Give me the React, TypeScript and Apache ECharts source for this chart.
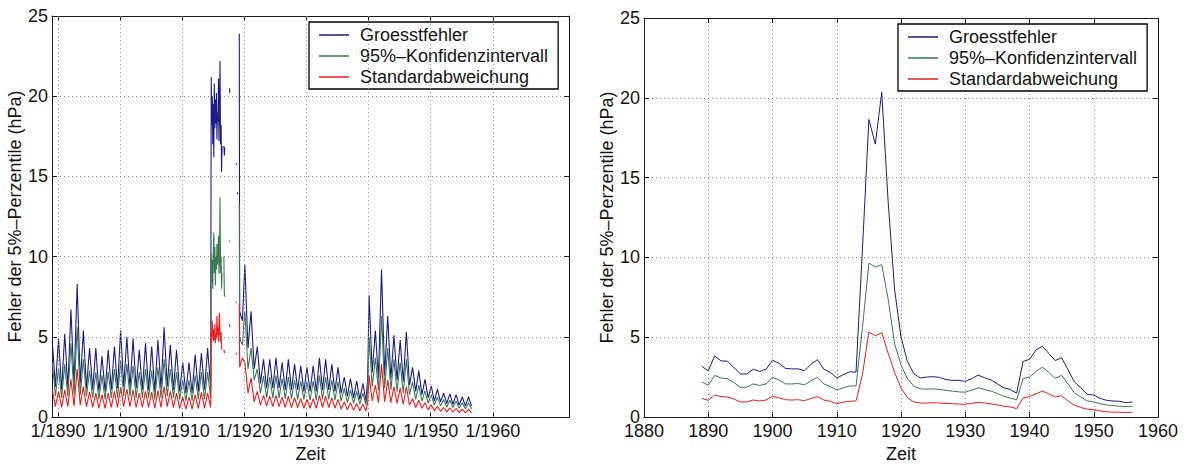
import React, { useEffect, useRef } from 'react';
import * as echarts from 'echarts';

// ---------- names / ticks ----------
const NAMES = ['Groesstfehler', '95%–Konfidenzintervall', 'Standardabweichung'];
const COLORS = ['#1c1c8a', '#3b7a52', '#ee1c1c'];
const Y_TICKS_MAX = 25;
const LEFT_DECADES = [1890, 1900, 1910, 1920, 1930, 1940, 1950, 1960];
const LEFT_MIN = 1889.03;
const LEFT_MAX = 1972.26;

// ---------- left panel: monthly-resolution data, read as winter peak / summer trough per year ----------
const YEARS = Array.from({ length: 68 }, (_, i) => 1889 + i); // 1889..1956

const BLUE_WINTER = [
  4.7,
  4.9, 5.2, 6.7, 8.3, 5.4, 4.3, 4.3, 3.8, 4.2, 4.4,
  5.4, 5.0, 4.9, 4.2, 4.6, 4.4, 4.8, 5.6, 4.5, 4.2,
  3.4, 3.4, 3.9, 4.0, 4.3, null, null, null, null, null,
  9.5, 6.6, 4.4, 3.6, 3.6, 3.7, 3.4, 3.6, 3.3, 3.2,
  3.1, 3.2, 3.7, 3.6, 3.3, 3.1, 2.5, 2.4, 2.25, 2.1,
  7.6, 5.4, 9.2, 6.3, 5.1, 4.8, 5.3, 3.1, 2.9, 2.35,
  1.95, 1.75, 1.5, 1.45, 1.4, 1.25, 1.25,
];
const BLUE_SUMMER = [
  1.9,
  1.7, 1.8, 2.0, 2.1, 1.8, 1.7, 1.6, 1.6, 1.7, 1.8,
  1.9, 1.8, 1.8, 1.7, 1.7, 1.6, 1.8, 1.9, 1.7, 1.6,
  1.5, 1.5, 1.6, 1.7, 1.8, null, null, null, null, null,
  4.3, 3.0, 2.1, 1.8, 1.8, 1.8, 1.7, 1.7, 1.7, 1.6,
  1.6, 1.6, 1.7, 1.7, 1.6, 1.5, 1.3, 1.2, 1.1, 1.0,
  2.8, 2.4, 2.6, 2.4, 2.3, 2.2, 2.0, 1.6, 1.4, 1.2,
  1.0, 0.95, 0.85, 0.8, 0.75, 0.7, 0.7,
];
const GREEN_WINTER = [
  3.4,
  3.0, 3.3, 4.6, 5.6, 3.6, 2.9, 2.8, 2.6, 2.8, 3.0,
  3.5, 3.3, 3.2, 2.8, 3.0, 2.9, 3.1, 3.6, 3.0, 2.8,
  2.3, 2.3, 2.6, 2.8, 2.8, null, null, null, null, null,
  6.6, 4.3, 3.0, 2.55, 2.5, 2.6, 2.4, 2.5, 2.3, 2.25,
  2.2, 2.25, 2.6, 2.5, 2.3, 2.2, 1.8, 1.7, 1.6, 1.5,
  5.0, 3.7, 6.3, 4.3, 3.6, 3.4, 3.6, 2.2, 2.0, 1.65,
  1.4, 1.25, 1.1, 1.05, 1.0, 0.9, 0.9,
];
const GREEN_SUMMER = [
  1.3,
  1.2, 1.3, 1.4, 1.4, 1.3, 1.2, 1.1, 1.1, 1.2, 1.2,
  1.3, 1.3, 1.2, 1.2, 1.2, 1.1, 1.2, 1.3, 1.2, 1.1,
  1.0, 1.0, 1.1, 1.1, 1.2, null, null, null, null, null,
  3.0, 2.3, 1.5, 1.2, 1.2, 1.2, 1.15, 1.15, 1.1, 1.1,
  1.05, 1.05, 1.1, 1.1, 1.05, 1.0, 0.9, 0.85, 0.8, 0.75,
  1.9, 1.7, 1.8, 1.7, 1.6, 1.5, 1.4, 1.1, 1.0, 0.85,
  0.75, 0.7, 0.62, 0.6, 0.55, 0.52, 0.5,
];
const RED_WINTER = [
  1.7,
  1.6, 1.7, 2.35, 3.0, 1.9, 1.55, 1.5, 1.4, 1.5, 1.6,
  1.85, 1.75, 1.7, 1.5, 1.6, 1.55, 1.65, 1.9, 1.6, 1.5,
  1.25, 1.25, 1.4, 1.55, 1.5, null, null, null, null, null,
  3.4, 2.45, 1.6, 1.35, 1.3, 1.35, 1.25, 1.3, 1.2, 1.15,
  1.1, 1.15, 1.35, 1.3, 1.2, 1.1, 0.95, 0.9, 0.85, 0.8,
  2.6, 2.0, 3.3, 2.3, 1.9, 1.8, 1.9, 1.15, 1.05, 0.9,
  0.75, 0.68, 0.6, 0.58, 0.55, 0.5, 0.5,
];
const RED_SUMMER = [
  0.65,
  0.6, 0.65, 0.7, 0.75, 0.65, 0.6, 0.55, 0.55, 0.6, 0.6,
  0.65, 0.65, 0.6, 0.6, 0.6, 0.55, 0.6, 0.65, 0.6, 0.55,
  0.5, 0.5, 0.55, 0.55, 0.6, null, null, null, null, null,
  1.5, 0.95, 0.75, 0.7, 0.65, 0.65, 0.6, 0.6, 0.6, 0.55,
  0.55, 0.55, 0.6, 0.6, 0.55, 0.5, 0.45, 0.42, 0.4, 0.38,
  1.0, 0.9, 0.95, 0.9, 0.85, 0.8, 0.75, 0.6, 0.55, 0.45,
  0.4, 0.36, 0.33, 0.3, 0.28, 0.27, 0.26,
];

// irregular stretch (WWI gap, isolated values, 1939/40 jump); null = gap in the record
const SPIKE_X = [
  1914.66, 1914.74, 1914.83, 1914.91, 1915.0, 1915.08, 1915.16, 1915.25, 1915.33, 1915.41, 1915.5,
  1915.58, 1915.66, 1915.75, 1915.83, 1915.91, 1916.0, 1916.08, 1916.16, 1916.25, 1916.33, 1916.4,
  1916.55, 1916.7, 1916.78, 1916.85, 1917.2, 1917.62, 1917.67, 1918.2, 1918.68, 1918.73, 1918.8,
  1918.88, 1918.93, 1919.05, 1919.18, 1919.24, 1919.45, 1919.7, 1919.9, 1939.85,
];
const SPIKE_BLUE = [
  21.2, 18.2, 20.0, 17.0, 19.5, 16.2, 20.8, 18.0, 19.8, 18.3, 20.2,
  17.3, 19.0, 18.4, 21.1, 17.2, 19.5, 22.2, 17.0, 18.2, 15.3, 16.9,
  null, 16.9, 16.3, 16.8, null, 20.5, 20.2, null, 15.8, 15.7, null,
  14.0, 13.9, null, 23.9, 6.6, 6.3, 6.0, 8.0, 2.4,
];
const SPIKE_GREEN = [
  10.2, 8.4, 9.8, 8.0, 10.5, 11.5, 9.0, 10.6, 8.2, 10.0, 9.2,
  10.8, 9.5, 10.2, 11.3, 8.9, 10.0, 13.7, 9.0, 10.0, 8.0, 9.0,
  null, 10.0, 7.5, 7.7, null, 11.0, 10.9, null, 7.2, 7.1, null,
  null, null, null, 13.3, 5.0, 4.7, 4.5, 5.8, 1.7,
];
const SPIKE_RED = [
  5.3, 5.0, 6.0, 5.2, 4.7, 5.5, 4.8, 5.8, 4.6, 5.2, 4.9,
  6.3, 5.1, 5.6, 4.7, 5.8, 6.5, 5.0, 4.7, 5.3, 4.4, 4.2,
  null, 4.2, 4.0, 4.1, null, 5.8, 5.6, null, 4.0, 3.9, null,
  null, null, null, 7.1, 3.1, 3.4, 3.7, 3.5, 0.9,
];

// ---------- right panel: yearly values ----------
const BLUE_YEAR = [
  3.17,
  2.9, 3.83, 3.52, 3.5, 3.1, 2.7, 2.7, 3.0, 2.86, 3.0,
  3.56, 3.37, 3.05, 3.02, 3.02, 2.9, 3.31, 3.6, 3.0, 2.8,
  2.45, 2.65, 2.84, 2.82, 10.5, 18.64, 17.1, 20.35, 13.5, 8.0,
  5.02, 3.48, 2.72, 2.45, 2.51, 2.53, 2.49, 2.35, 2.3, 2.3,
  2.24, 2.41, 2.63, 2.47, 2.33, 2.08, 1.83, 1.73, 1.5, 3.48,
  3.62, 4.2, 4.44, 3.99, 3.54, 3.72, 2.96, 2.2, 1.83, 1.42,
  1.38, 1.17, 1.05, 1.01, 0.99, 0.9, 0.95,
];
const GREEN_YEAR = [
  2.2,
  2.0, 2.61, 2.45, 2.41, 2.16, 1.87, 1.87, 2.08, 1.98, 2.08,
  2.49, 2.33, 2.08, 2.08, 2.1, 2.02, 2.28, 2.49, 2.08, 1.91,
  1.71, 1.83, 1.95, 1.95, 5.6, 9.65, 9.4, 9.55, 7.4, 4.6,
  3.27, 2.41, 1.93, 1.77, 1.75, 1.77, 1.73, 1.67, 1.63, 1.58,
  1.56, 1.69, 1.83, 1.73, 1.63, 1.48, 1.3, 1.19, 1.07, 2.41,
  2.51, 2.86, 3.13, 2.8, 2.43, 2.61, 2.08, 1.52, 1.26, 1.01,
  0.95, 0.84, 0.76, 0.72, 0.68, 0.66, 0.68,
];
const RED_YEAR = [
  1.17,
  1.05, 1.38, 1.28, 1.26, 1.13, 0.95, 0.95, 1.07, 1.01, 1.07,
  1.3, 1.21, 1.09, 1.07, 1.09, 1.03, 1.17, 1.28, 1.07, 0.99,
  0.84, 0.93, 0.99, 1.01, 2.65, 5.33, 5.1, 5.29, 4.0, 2.8,
  1.83, 1.21, 0.95, 0.88, 0.88, 0.9, 0.88, 0.86, 0.84, 0.82,
  0.8, 0.86, 0.93, 0.88, 0.82, 0.76, 0.68, 0.64, 0.53, 1.21,
  1.28, 1.46, 1.63, 1.46, 1.26, 1.34, 1.01, 0.74, 0.6, 0.49,
  0.47, 0.39, 0.33, 0.31, 0.31, 0.29, 0.31,
];

// ---------- builders ----------
function buildLeft(winter: (number | null)[], summer: (number | null)[], spike: (number | null)[]) {
  const pts: [number, number | null][] = [];
  YEARS.forEach((y, i) => {
    if (winter[i] !== null) pts.push([y + 0.08, winter[i]]);
    if (summer[i] !== null) pts.push([y + 0.58, summer[i]]);
  });
  SPIKE_X.forEach((x, i) => pts.push([x, spike[i]]));
  pts.sort((a, b) => a[0] - b[0]);
  return pts;
}
function buildRight(vals: number[]) {
  return YEARS.map((y, i) => [y, vals[i]]);
}

const FONT = '"Liberation Sans", Arial, Helvetica, sans-serif';
const TXT = '#141414';
const gridLine = { show: true, lineStyle: { type: [1, 3] as any, color: '#8c8c8c', width: 1 } };
const axLine = { show: true, onZero: false, lineStyle: { color: '#1a1a1a', width: 1 } };
const label = { fontSize: 18, fontFamily: FONT, color: TXT };
const Y_NAME = 'Fehler der 5%–Perzentile (hPa)';

function yAxes(gridIndex: number) {
  return [
    {
      type: 'value', gridIndex, min: 0, max: Y_TICKS_MAX, interval: 5, position: 'left',
      axisLine: axLine, axisTick: { show: true, inside: true, length: 5, lineStyle: { color: '#1a1a1a' } },
      axisLabel: { ...label, margin: 4, lineHeight: 14 }, splitLine: gridLine,
      name: Y_NAME, nameLocation: 'middle', nameGap: 26, nameRotate: 90,
      nameTextStyle: { ...label },
    },
    {
      type: 'value', gridIndex, min: 0, max: Y_TICKS_MAX, interval: 5, position: 'right',
      axisLine: axLine, axisTick: { show: true, inside: true, length: 5, lineStyle: { color: '#1a1a1a' } },
      axisLabel: { show: false }, splitLine: { show: false },
    },
  ];
}

const option: any = {
  animation: false,
  backgroundColor: '#ffffff',
  textStyle: { fontFamily: FONT },
  grid: [
    { left: 52, top: 16, width: 517, height: 407 },
    { left: 644, top: 18, width: 514, height: 405 },
  ],
  xAxis: [
    {
      type: 'value', gridIndex: 0, min: LEFT_MIN, max: LEFT_MAX, position: 'bottom',
      axisLine: axLine,
      axisTick: { show: true, inside: true, length: 5, customValues: LEFT_DECADES, lineStyle: { color: '#1a1a1a' } },
      axisLabel: { ...label, margin: 7, lineHeight: 14, customValues: LEFT_DECADES, formatter: (v: number) => '1/' + v },
      splitLine: { show: false },
      name: 'Zeit', nameLocation: 'middle', nameGap: 24, nameTextStyle: { ...label },
    },
    {
      type: 'value', gridIndex: 0, min: LEFT_MIN, max: LEFT_MAX, position: 'top',
      axisLine: axLine,
      axisTick: { show: true, inside: true, length: 5, customValues: LEFT_DECADES, lineStyle: { color: '#1a1a1a' } },
      axisLabel: { show: false }, splitLine: { show: false },
    },
    {
      type: 'value', gridIndex: 1, min: 1880, max: 1960, interval: 10, position: 'bottom',
      axisLine: axLine,
      axisTick: { show: true, inside: true, length: 5, lineStyle: { color: '#1a1a1a' } },
      axisLabel: { ...label, margin: 7, lineHeight: 14, formatter: (v: number) => String(v) },
      splitLine: gridLine,
      name: 'Zeit', nameLocation: 'middle', nameGap: 24, nameTextStyle: { ...label },
    },
    {
      type: 'value', gridIndex: 1, min: 1880, max: 1960, interval: 10, position: 'top',
      axisLine: axLine,
      axisTick: { show: true, inside: true, length: 5, lineStyle: { color: '#1a1a1a' } },
      axisLabel: { show: false }, splitLine: { show: false },
    },
  ],
  yAxis: [...yAxes(0), ...yAxes(1)],
  legend: [0, 1].map((k) => ({
    show: true,
    orient: 'vertical',
    left: k === 0 ? 309 : 898,
    top: k === 0 ? 22 : 24,
    data: NAMES,
    icon: 'rect',
    selectedMode: false,
    backgroundColor: '#ffffff',
    borderColor: '#000000',
    borderWidth: 1.3,
    borderRadius: 0,
    padding: [4, 10, 3, 10],
    itemWidth: 30,
    itemHeight: 1.5,
    itemGap: 3,
    textStyle: { fontSize: 18, fontFamily: FONT, color: TXT, lineHeight: 18, padding: [0, 0, 0, 6] },
  })),
  series: [
    ...[
      buildLeft(BLUE_WINTER, BLUE_SUMMER, SPIKE_BLUE),
      buildLeft(GREEN_WINTER, GREEN_SUMMER, SPIKE_GREEN),
      buildLeft(RED_WINTER, RED_SUMMER, SPIKE_RED),
    ].map((data, k) => ({
      type: 'line', name: NAMES[k], xAxisIndex: 0, yAxisIndex: 0, data,
      symbol: 'none', showSymbol: false, connectNulls: false,
      lineStyle: { width: 1.1, color: COLORS[k] }, itemStyle: { color: COLORS[k] },
      z: 3 + k,
      markLine: k === 0 ? {
        silent: true, symbol: ['none', 'none'], label: { show: false },
        lineStyle: { type: [1, 3], color: '#8c8c8c', width: 1 },
        data: LEFT_DECADES.map((v) => ({ xAxis: v })),
        animation: false,
      } : undefined,
    })),
    ...[BLUE_YEAR, GREEN_YEAR, RED_YEAR].map((vals, k) => ({
      type: 'line', name: NAMES[k], xAxisIndex: 2, yAxisIndex: 2, data: buildRight(vals),
      symbol: 'none', showSymbol: false,
      lineStyle: { width: 1, color: COLORS[k] }, itemStyle: { color: COLORS[k] },
      z: 3 + k,
    })),
  ],
};

export default function App() {
  const ref = useRef<HTMLDivElement>(null);
  useEffect(() => {
    const chart = echarts.init(ref.current!, null, { renderer: 'svg' });
    chart.setOption(option);
    return () => chart.dispose();
  }, []);
  return (
    <div
      ref={ref}
      style={{ position: 'fixed', left: 0, top: 0, width: 1188, height: 468, background: '#ffffff' }}
    />
  );
}
